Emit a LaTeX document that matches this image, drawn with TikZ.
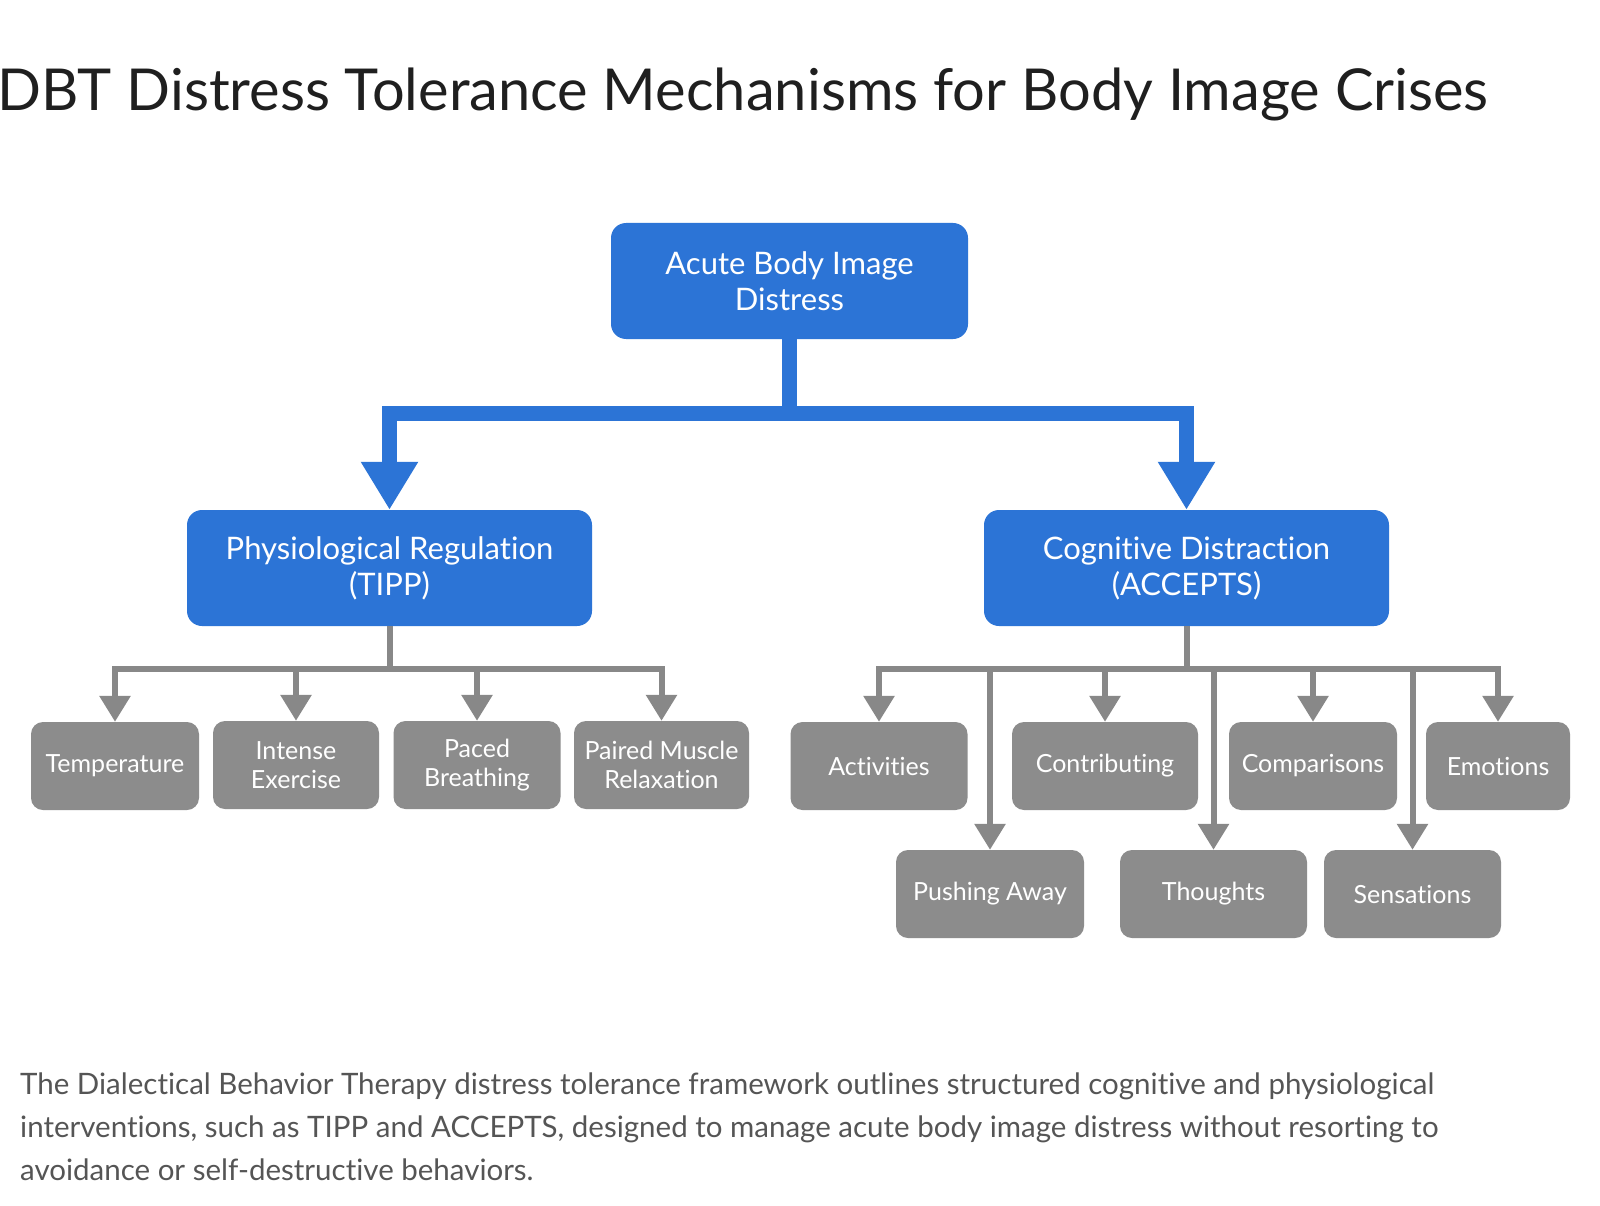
\documentclass[tikz,border=0pt]{standalone}
\usepackage{fontspec}
\setmainfont{Lato}[Ligatures={NoCommon}]
\usetikzlibrary{arrows.meta}
\definecolor{bblue}{RGB}{44,116,214}
\definecolor{gbox}{RGB}{140,140,140}
\definecolor{gline}{RGB}{136,136,136}
\definecolor{titlec}{RGB}{31,31,31}
\definecolor{capc}{RGB}{85,85,85}
\tikzset{
  bluebox/.style={fill=bblue, rounded corners=15pt, text=white, align=center, inner sep=0pt,
     minimum height=116pt, font=\fontsize{31}{36}\selectfont},
  graybox/.style={fill=gbox, rounded corners=12pt, text=white, align=center, inner sep=0pt,
     minimum height=88pt, font=\fontsize{25}{29}\selectfont},
  bluearrow/.style={draw=bblue, line width=15pt, line join=miter, -{Triangle[width=54pt,length=48pt]}},
  blueline/.style={draw=bblue, line width=15pt, line join=miter},
  grayarrow/.style={draw=gline, line width=6pt, line join=miter, -{Triangle[width=30pt,length=26pt]}},
  grayline/.style={draw=gline, line width=6pt, line join=miter},
}
\begin{document}
\begin{tikzpicture}[x=1pt,y=-1pt]
\path[use as bounding box, fill=white] (0,0) rectangle (1600,1206);
\node[anchor=base west, text=titlec, font=\fontsize{57.8}{62}\selectfont, inner sep=0pt] (title) at (-3,111) {DBT Distress Tolerance Mechanisms for Body Image Crises};

\node[bluebox, minimum width=357pt] (top) at (789.5,281) {Acute Body Image\\Distress};
\node[bluebox, minimum width=405pt] (phys) at (389.5,568) {Physiological Regulation\\(TIPP)};
\node[bluebox, minimum width=405pt] (cog) at (1186.5,568) {Cognitive Distraction\\(ACCEPTS)};

\node[graybox, minimum width=168pt] (temp) at (115,766) {Temperature};
\node[graybox, minimum width=166pt] (ie) at (296,765) {Intense\\Exercise};
\node[graybox, minimum width=167pt] (pb) at (477,765) {Paced\\Breathing};
\node[graybox, minimum width=175pt] (pmr) at (661.5,765) {Paired Muscle\\Relaxation};

\node[graybox, minimum width=177pt] (act) at (879,766) {Activities};
\node[graybox, minimum width=186pt] (con) at (1105,766) {Contributing};
\node[graybox, minimum width=168pt] (comp) at (1313,766) {Comparisons};
\node[graybox, minimum width=144pt] (emo) at (1498,766) {Emotions};

\node[graybox, minimum width=188pt] (push) at (990,894) {Pushing Away};
\node[graybox, minimum width=187pt] (th) at (1213.5,894) {Thoughts};
\node[graybox, minimum width=177pt] (sen) at (1412.5,894) {Sensations};

% blue connectors
\coordinate (hub) at (789.5,413);
\draw[blueline] (top.south) -- (hub);
\draw[bluearrow] (hub) -| (phys.north);
\draw[bluearrow] (hub) -| (cog.north);

% left gray connectors
\coordinate (lh) at (389.5,669);
\draw[grayline] (phys.south) -- (lh);
\foreach \n in {temp,ie,pb,pmr} \draw[grayarrow] (lh) -| (\n.north);

% right gray connectors
\coordinate (rh) at (1186.5,669);
\draw[grayline] (cog.south) -- (rh);
\foreach \n in {act,con,comp,emo,push,th,sen} \draw[grayarrow] (rh) -| (\n.north);

\node[anchor=base west, text=capc, font=\fontsize{29.5}{43}\selectfont, align=left, inner sep=0pt] (cap) at (20,1180)
{The Dialectical Behavior Therapy distress tolerance framework outlines structured cognitive and physiological\\
interventions, such as TIPP and ACCEPTS, designed to manage acute body image distress without resorting to\\
avoidance or self-destructive behaviors.};
\end{tikzpicture}
\end{document}
